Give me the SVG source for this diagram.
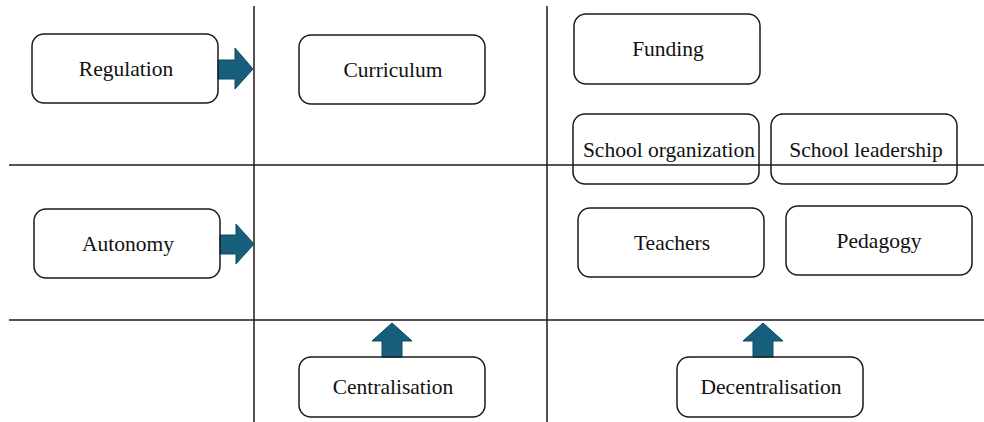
<svg xmlns="http://www.w3.org/2000/svg" width="984" height="422" viewBox="0 0 984 422">
  <style>
    .grid { stroke: #1a1a1a; stroke-width: 1.5; fill: none; }
    .box rect { fill: none; stroke: #1a1a1a; stroke-width: 1.5; }
    .box text { font-family: "Liberation Serif", "Times New Roman", serif; font-size: 21.5px; fill: #111; text-anchor: middle; dominant-baseline: central; }
    .arrow { fill: #165e7b; stroke: #0f4a60; stroke-width: 1; stroke-linejoin: miter; }
  </style>
  <rect width="984" height="422" fill="#ffffff"/>

  <!-- quadrant grid -->
  <g id="grid">
    <line class="grid" x1="254" y1="6" x2="254" y2="422"/>
    <line class="grid" x1="547" y1="6" x2="547" y2="422"/>
    <line class="grid" x1="9" y1="165" x2="984" y2="165"/>
    <line class="grid" x1="9" y1="320" x2="984" y2="320"/>
  </g>

  <!-- block arrows -->
  <g id="connectors">
    <polygon class="arrow" points="218,60 235,60 235,48 253,69 235,89 235,79 218,79"/>
    <polygon class="arrow" points="220,235 236,235 236,224 254,244 236,264 236,254 220,254"/>
    <polygon class="arrow" points="382,357 382,341 372,341 392,323 412,341 402,341 402,357"/>
    <polygon class="arrow" points="753,357 753,341 743,341 763,323 783,341 773,341 773,357"/>
  </g>

  <g id="regulation" class="box">
    <rect x="32" y="34" width="186" height="69" rx="12"/>
    <text x="126" y="69">Regulation</text>
  </g>
  <g id="curriculum" class="box">
    <rect x="299" y="35" width="186" height="69" rx="12"/>
    <text x="393" y="70">Curriculum</text>
  </g>
  <g id="funding" class="box">
    <rect x="574" y="14" width="186" height="70" rx="12"/>
    <text x="668" y="49">Funding</text>
  </g>
  <g id="school-organization" class="box">
    <rect x="573" y="114" width="186" height="70" rx="12"/>
    <text x="669" y="150">School organization</text>
  </g>
  <g id="school-leadership" class="box">
    <rect x="771" y="114" width="186" height="70" rx="12"/>
    <text x="866" y="150">School leadership</text>
  </g>
  <g id="autonomy" class="box">
    <rect x="34" y="209" width="186" height="69" rx="12"/>
    <text x="128" y="244">Autonomy</text>
  </g>
  <g id="teachers" class="box">
    <rect x="578" y="208" width="186" height="69" rx="12"/>
    <text x="672" y="243">Teachers</text>
  </g>
  <g id="pedagogy" class="box">
    <rect x="786" y="206" width="186" height="69" rx="12"/>
    <text x="879" y="241">Pedagogy</text>
  </g>
  <g id="centralisation" class="box">
    <rect x="299" y="357" width="186" height="60" rx="12"/>
    <text x="393" y="387">Centralisation</text>
  </g>
  <g id="decentralisation" class="box">
    <rect x="677" y="357" width="186" height="60" rx="12"/>
    <text x="771" y="387">Decentralisation</text>
  </g>
</svg>
